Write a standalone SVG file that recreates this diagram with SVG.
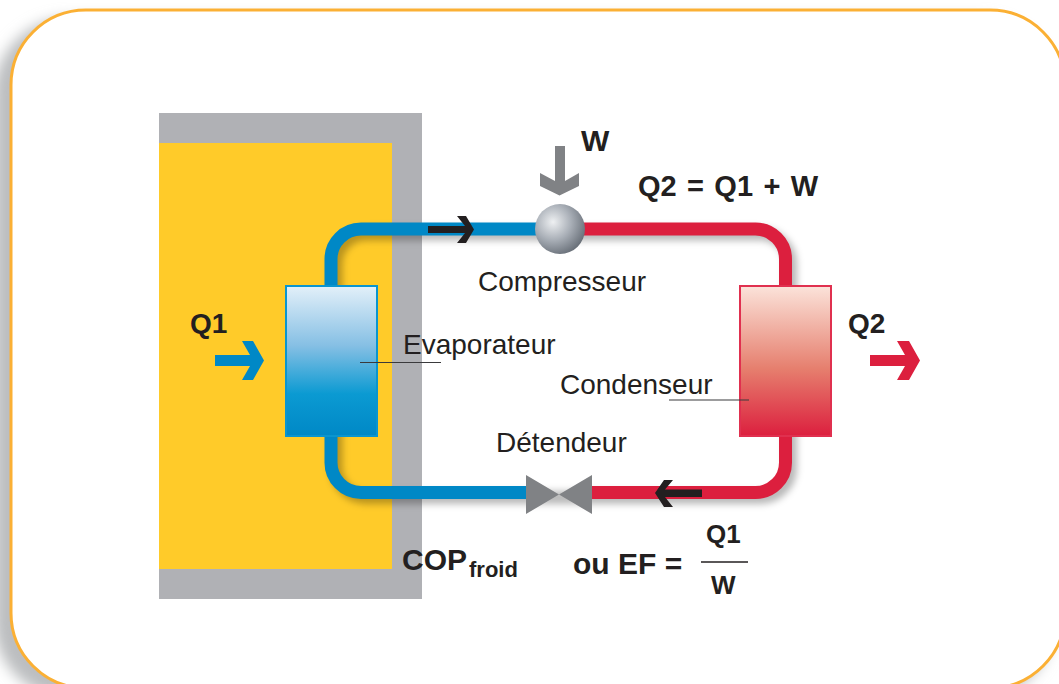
<svg xmlns="http://www.w3.org/2000/svg" width="1059" height="684" viewBox="0 0 1059 684">
<style>
text{font-family:"Liberation Sans",Arial,sans-serif;fill:#231f20;font-size:28px}
.b{font-weight:700}
.big{font-size:30px}
.frac{font-size:26px}
.pipe{fill:none;stroke-width:13}
.leader{stroke:#3a3a3c;stroke-width:1.2;fill:none}
</style>
<defs>
<filter id="blur" x="-20%" y="-20%" width="140%" height="140%"><feGaussianBlur stdDeviation="7"/></filter>
<filter id="pipeBlur" x="-10%" y="-10%" width="120%" height="120%"><feGaussianBlur stdDeviation="3.5"/></filter>
<linearGradient id="evap" x1="0" y1="0" x2="0" y2="1"><stop offset="0" stop-color="#e3f0f9"/><stop offset=".4" stop-color="#85bfe4"/><stop offset=".72" stop-color="#0b9ad2"/><stop offset="1" stop-color="#0088c6"/></linearGradient>
<linearGradient id="cond" x1="0" y1="0" x2="0" y2="1"><stop offset="0" stop-color="#fbe3da"/><stop offset=".55" stop-color="#e67f6e"/><stop offset="1" stop-color="#dc1f3e"/></linearGradient>
<radialGradient id="ball" cx=".36" cy=".36" r=".72"><stop offset="0" stop-color="#eef0f2"/><stop offset=".5" stop-color="#a9afb7"/><stop offset="1" stop-color="#636a73"/></radialGradient>
</defs>
<rect width="1059" height="684" fill="#fff"/>
<g id="frame">
<rect x="-6" y="18" width="1060" height="680" rx="76" fill="#bcbec0" filter="url(#blur)"/>
<rect x="11" y="10" width="1054" height="678" rx="75" fill="#fff" stroke="#fbb034" stroke-width="3"/>
</g>
<g id="building">
<rect x="159" y="113" width="263" height="486" fill="#b0b1b5"/>
<rect x="159" y="143" width="233" height="426" fill="#ffcb29"/>
</g>
<g id="connectors">
<path d="M560 229H361a30 30 0 0 0-30 30V462a30 30 0 0 0 30 30.500H560M560 229H755a30 30 0 0 1 30.500 30V462a30 30 0 0 1-30.500 30.500H560" fill="none" stroke="#000" stroke-opacity=".28" stroke-width="13" transform="translate(5 5)" filter="url(#pipeBlur)"/>
<path class="pipe" stroke="#0088c6" d="M560 229H361a30 30 0 0 0-30 30V462a30 30 0 0 0 30 30.500H527"/>
<path class="pipe" stroke="#dc1f3e" d="M560 229H755a30 30 0 0 1 30.500 30V462a30 30 0 0 1-30.500 30.500H591"/>
<path id="flow-top" fill="#231f20" d="M428 226H465L457 216H466L474 229.500L466 243H457L465 233H428Z"/>
<path id="flow-bottom" fill="#231f20" d="M702 489.500H665L673 480H664L655 493L664 507H673L665 497H702Z"/>
</g>
<g id="evaporateur">
<rect x="286" y="286" width="91" height="150" fill="url(#evap)" stroke="#0a95cf" stroke-width="2"/>
<path class="leader" d="M360 362.500H441"/>
<text x="403" y="354">Evaporateur</text>
</g>
<g id="condenseur">
<rect x="740" y="286" width="91" height="150" fill="url(#cond)" stroke="#e0304f" stroke-width="2"/>
<path class="leader" d="M669 400H749"/>
<text x="560" y="394">Condenseur</text>
</g>
<g id="compresseur">
<circle cx="560" cy="229" r="25" fill="url(#ball)"/>
<text x="478" y="291">Compresseur</text>
</g>
<g id="detendeur">
<path fill="#808285" d="M526 475L559 494.500L592 475V514L559 494.500L526 514Z"/>
<text x="496" y="452">Détendeur</text>
</g>
<g id="w-input">
<path fill="#808285" d="M555 146H565V181L579 173V186L559.500 195.500L540 186V173L555 181Z"/>
<text class="b big" x="581" y="151">W</text>
</g>
<text class="b big" x="638" y="196" style="font-size:29px;word-spacing:2.300px">Q2 = Q1 + W</text>
<g id="q1">
<path fill="#0088c6" d="M215 355H250L242 341H253L264 360.500L253 380H242L250 366H215Z"/>
<text class="b" x="190" y="333">Q1</text>
</g>
<g id="q2">
<path fill="#dc1f3e" d="M870 355H905L897 341H909L920 360.500L909 380H897L905 366H870Z"/>
<text class="b" x="848" y="333">Q2</text>
</g>
<g id="formula">
<text class="b big" x="402" y="570">COP</text>
<text class="b" x="469" y="577" style="font-size:22px">froid</text>
<text class="b big" x="573" y="574">ou EF =</text>
<text class="b frac" x="706" y="543">Q1</text>
<path d="M701 562H748" stroke="#231f20" stroke-width="1.500"/>
<text class="b frac" x="711" y="594">W</text>
</g>
</svg>
